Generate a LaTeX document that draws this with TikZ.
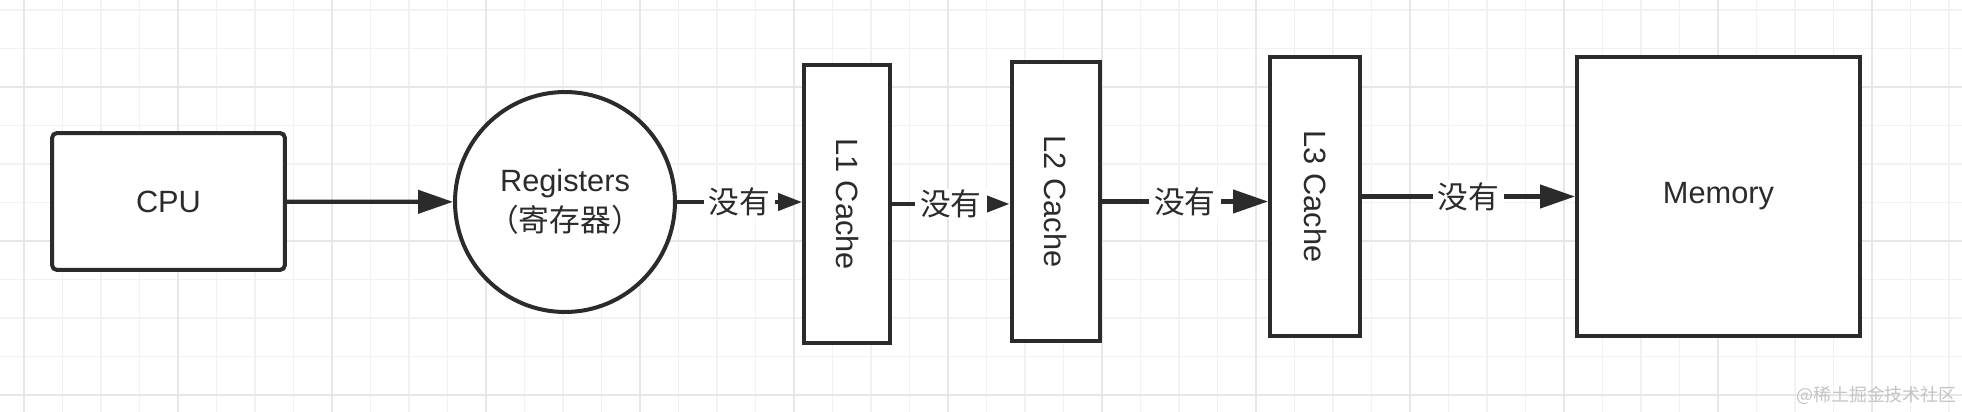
\documentclass[tikz,border=0pt]{standalone}
\usepackage{fontspec}
\setmainfont{Liberation Sans}
\newfontfamily\cjk{Noto Sans CJK SC}
\usetikzlibrary{arrows.meta,positioning}
\definecolor{ink}{HTML}{2B2B2B}
\definecolor{gridminor}{HTML}{F2F2F2}
\definecolor{gridmajor}{HTML}{E7E7E7}
\definecolor{wmark}{HTML}{C4C4C4}

\begin{document}
\begin{tikzpicture}[x=0.02cm, y=-0.02cm,
    box/.style={draw=ink, line width=0.08cm, fill=white, inner sep=0pt, text=ink,
        font=\fontsize{17.5}{22.8}\selectfont},
    flow/.style={draw=ink, line width=0.085cm, -{Triangle[length=0.7cm, width=0.46cm]}},
    smallhead/.style={-{Triangle[length=0.48cm, width=0.34cm]}},
    lbl/.style={fill=white, inner xsep=0.1cm, inner ysep=0.02cm, text=ink,
        font=\cjk\fontsize{17.5}{22}\selectfont},
    minorgrid/.style={draw=gridminor, line width=0.03cm},
    majorgrid/.style={draw=gridmajor, line width=0.04cm}]
        % 背景与网格
        \fill[white] (0,0) rectangle (1962,412);
        \useasboundingbox (0,0) rectangle (1962,412);
        \begin{scope}
            \clip (0,0) rectangle (1962,412);
            \foreach \k in {0,...,50}
                \draw[minorgrid] ({24+38.5*\k},0) -- ++(0,412);
            \foreach \k in {0,...,10}
                \draw[minorgrid] (0,{10+38.5*\k}) -- ++(1962,0);
            \foreach \k in {0,...,12}
                \draw[majorgrid] ({24+154*\k},0) -- ++(0,412);
            \foreach \k in {0,...,2}
                \draw[majorgrid] (0,{87+154*\k}) -- ++(1962,0);
        \end{scope}

        % CPU 与寄存器
        \node[box, rounded corners=0.1cm, minimum width=4.66cm, minimum height=2.74cm] (cpu) at (168.5,201.5) {CPU};
        \node[box, circle, minimum size=4.4cm, align=center] (reg) at (565,202) {Registers\\{\cjk （寄存器）}};

        % 三级缓存
        \node[box, minimum width=1.72cm, minimum height=5.56cm] (l1) at (847,204) {\rotatebox{-90}{L1 Cache}};
        \node[box, minimum width=1.76cm, minimum height=5.58cm] (l2) at (1055.5,201.5) {\rotatebox{-90}{L2 Cache}};
        \node[box, minimum width=1.80cm, minimum height=5.58cm] (l3) at (1315,196.5) {\rotatebox{-90}{L3 Cache}};

        % 内存
        \node[box, minimum width=5.66cm, minimum height=5.58cm] (mem) at (1718.5,196.5) {Memory};

        % 连线
        \draw[flow] (cpu) -- (reg);
        \draw[flow, smallhead] (reg) -- node[lbl]{没有} (reg -| l1.west);
        \draw[flow, smallhead] (l1.east) -- node[lbl]{没有} (l1.east -| l2.west);
        \draw[flow] (l2.east) -- node[lbl]{没有} (l2.east -| l3.west);
        \draw[flow] (l3) -- node[lbl]{没有} (mem);

        % 水印
        \node[anchor=east, inner sep=0pt, text=wmark, font=\cjk\fontsize{10.2}{12}\selectfont] (wm) at (1957,395) {@稀土掘金技术社区};
    \end{tikzpicture}
\end{document}
